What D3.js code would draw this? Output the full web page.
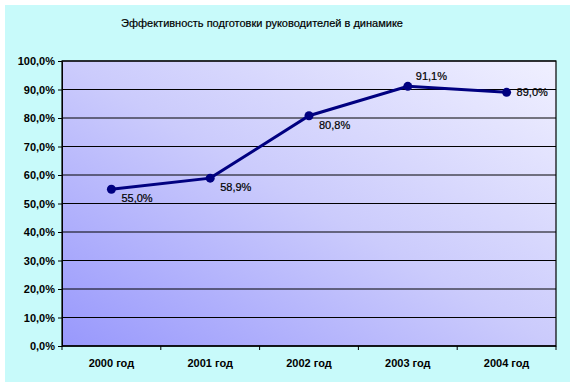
<!DOCTYPE html>
<html>
<head>
<meta charset="utf-8">
<script src="https://cdn.jsdelivr.net/npm/d3@7"></script>
<style>
  body { margin: 0; background: #fff; }
  text { font-family: "Liberation Sans", Arial, sans-serif; }
</style>
</head>
<body>
<div id="chart"></div>
<script>
const title = "Эффективность подготовки руководителей в динамике";
const years = ["2000 год", "2001 год", "2002 год", "2003 год", "2004 год"];
const values = [55.0, 58.9, 80.8, 91.1, 89.0];
const yTicks = [0, 10, 20, 30, 40, 50, 60, 70, 80, 90, 100];
// where each data label sits relative to its point
const labelPos = ["below", "below", "below", "above", "right"];

const width = 575, height = 387;
const margin = {top: 61, right: 19, bottom: 41, left: 62};

const svg = d3.select("#chart").append("svg")
    .attr("width", width)
    .attr("height", height);

const defs = svg.append("defs");
const grad = defs.append("linearGradient")
    .attr("id", "plotGrad")
    .attr("x1", "0%").attr("y1", "100%")
    .attr("x2", "100%").attr("y2", "0%");
grad.append("stop").attr("offset", "0%").attr("stop-color", "#9898fc");
grad.append("stop").attr("offset", "50%").attr("stop-color", "#cbcbfc");
grad.append("stop").attr("offset", "100%").attr("stop-color", "#f0f0ff");

// outer chart area
svg.append("rect")
    .attr("x", 5).attr("y", 5)
    .attr("width", 565).attr("height", 377)
    .attr("fill", "#c8fafa");

const fmt = v => d3.format(".1f")(v).replace(".", ",") + "%";

const x = d3.scaleBand()
    .domain(years)
    .range([margin.left, width - margin.right]);

const y = d3.scaleLinear()
    .domain([0, 100])
    .range([height - margin.bottom, margin.top]);

svg.append("rect")
    .attr("x", margin.left)
    .attr("y", margin.top)
    .attr("width", width - margin.left - margin.right)
    .attr("height", height - margin.top - margin.bottom)
    .attr("fill", "url(#plotGrad)")
    .attr("stroke", "#000")
    .attr("stroke-width", 1.2);

// gridlines
svg.append("g")
    .selectAll("line")
    .data(yTicks)
    .join("line")
    .attr("x1", margin.left)
    .attr("x2", width - margin.right)
    .attr("y1", d => y(d))
    .attr("y2", d => y(d))
    .attr("stroke", "#000")
    .attr("stroke-width", 1);

// y axis
const yAxis = svg.append("g")
    .attr("transform", `translate(${margin.left},0)`)
    .call(d3.axisLeft(y).tickValues(yTicks).tickSize(4).tickPadding(3)
        .tickFormat(fmt));
yAxis.select(".domain").attr("stroke", "#000");
yAxis.selectAll("text")
    .attr("font-size", 11)
    .attr("font-weight", "bold")
    .attr("fill", "#000");

// x axis: ticks at category boundaries
const xAxis = svg.append("g")
    .attr("transform", `translate(0,${height - margin.bottom})`);
xAxis.append("line")
    .attr("x1", margin.left).attr("x2", width - margin.right)
    .attr("stroke", "#000").attr("stroke-width", 1.2);
const bounds = years.map(d => x(d)).concat([x(years[years.length - 1]) + x.bandwidth()]);
xAxis.selectAll("line.tick")
    .data(bounds)
    .join("line")
    .attr("class", "tick")
    .attr("x1", d => d).attr("x2", d => d)
    .attr("y1", 0).attr("y2", 4)
    .attr("stroke", "#000");
xAxis.selectAll("text")
    .data(years)
    .join("text")
    .attr("x", d => x(d) + x.bandwidth() / 2)
    .attr("y", 21)
    .attr("text-anchor", "middle")
    .attr("font-size", 11)
    .attr("font-weight", "bold")
    .attr("fill", "#000")
    .text(d => d);

// line
const pts = years.map((d, i) => ({year: d, value: values[i], pos: labelPos[i]}));
const line = d3.line()
    .x(d => x(d.year) + x.bandwidth() / 2)
    .y(d => y(d.value));

svg.append("path")
    .datum(pts)
    .attr("d", line)
    .attr("fill", "none")
    .attr("stroke", "#000080")
    .attr("stroke-width", 3);

svg.append("g")
    .selectAll("circle")
    .data(pts)
    .join("circle")
    .attr("cx", d => x(d.year) + x.bandwidth() / 2)
    .attr("cy", d => y(d.value))
    .attr("r", 4.5)
    .attr("fill", "#000080");

// data labels
svg.append("g")
    .selectAll("text")
    .data(pts)
    .join("text")
    .attr("x", d => x(d.year) + x.bandwidth() / 2 + (d.pos === "above" ? 8 : 10))
    .attr("y", d => y(d.value) + (d.pos === "below" ? 13 : d.pos === "above" ? -6 : 4))
    .attr("font-size", 11)
    .attr("fill", "#000")
    .attr("stroke", "#000")
    .attr("stroke-width", 0.2)
    .text(d => fmt(d.value));

// title
svg.append("text")
    .attr("x", 262)
    .attr("y", 27)
    .attr("text-anchor", "middle")
    .attr("font-size", 11)
    .attr("fill", "#000")
    .attr("stroke", "#000")
    .attr("stroke-width", 0.2)
    .text(title);
</script>
</body>
</html>
